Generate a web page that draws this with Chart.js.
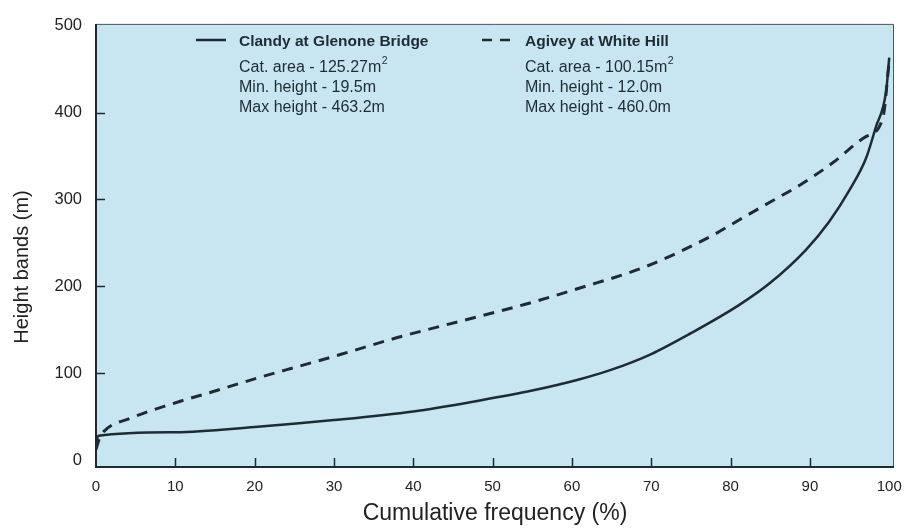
<!DOCTYPE html>
<html>
<head>
<meta charset="utf-8">
<script src="https://cdn.jsdelivr.net/npm/chart.js@4.4.1/dist/chart.umd.min.js"></script>
<style>
  html, body { margin: 0; padding: 0; background: #ffffff; }
  #wrap { width: 907px; height: 531px; position: relative; }
</style>
</head>
<body>
<div id="wrap"><canvas id="c" width="907" height="531"></canvas></div>
<script>
// Hypsometric curves: cumulative frequency (%) against height band (m)
const clandyPct    = [0, 0.3, 10, 20, 30, 40, 48, 55, 61, 65, 70, 75, 81, 85, 89.5, 92.4, 95, 97.1, 98.3, 99.6, 100];
const clandyHeight = [19.5, 28, 32, 38, 46, 56, 68, 80, 93, 104, 122, 146, 178, 204, 242, 274, 311, 348, 383, 424, 463.2];

const agiveyPct    = [0, 0.4, 1, 4.3, 9.7, 15.2, 20.2, 26, 31, 38, 46, 54, 61, 69.4, 77.8, 81, 85, 89, 93, 97, 99.2, 100];
const agiveyHeight = [12.0, 24, 33, 48, 65, 80, 94, 109, 122, 141, 160, 179, 198, 223, 259, 276, 297, 318, 343, 372, 394, 460.0];

const xTicks = [0, 10, 20, 30, 40, 50, 60, 70, 80, 90, 100];
const yTicks = [0, 100, 200, 300, 400, 500];

const legendClandy = ['Clandy at Glenone Bridge', 'Cat. area - 125.27m', 'Min. height - 19.5m', 'Max height - 463.2m'];
const legendAgivey = ['Agivey at White Hill', 'Cat. area - 100.15m', 'Min. height - 12.0m', 'Max height - 460.0m'];
const yTitle = 'Height bands (m)';

const FONT = '"Liberation Sans", Arial, Helvetica, sans-serif';
const INK = '#1f2b33';

const toPoints = (xs, ys) => xs.map((x, i) => ({ x: x, y: ys[i] }));

// plot background, frame, inward tick marks, y title and the keyed legend block
const decor = {
  id: 'decor',
  beforeDraw(chart) {
    const { ctx, chartArea: a } = chart;
    ctx.save();
    ctx.fillStyle = '#c8e5f2';
    ctx.fillRect(a.left, a.top, a.right - a.left, a.bottom - a.top);
    ctx.restore();
  },
  afterDraw(chart) {
    const { ctx, chartArea: a, scales } = chart;
    ctx.save();
    // frame
    ctx.strokeStyle = '#4a585e';
    ctx.lineWidth = 1;
    ctx.beginPath();
    ctx.moveTo(a.left, a.top + 0.5);
    ctx.lineTo(a.right - 0.5, a.top + 0.5);
    ctx.lineTo(a.right - 0.5, a.bottom);
    ctx.stroke();
    ctx.strokeStyle = INK;
    ctx.lineWidth = 2;
    ctx.beginPath();
    ctx.moveTo(a.left, a.top);
    ctx.lineTo(a.left, a.bottom);
    ctx.lineTo(a.right, a.bottom);
    ctx.stroke();
    // inward ticks
    ctx.lineWidth = 1.5;
    ctx.beginPath();
    yTicks.forEach(v => {
      if (v === 0 || v === 500) return;
      const y = Math.round(scales.y.getPixelForValue(v)) + 0.5;
      ctx.moveTo(a.left, y);
      ctx.lineTo(a.left + 9, y);
    });
    xTicks.forEach(v => {
      if (v === 0 || v === 100) return;
      const x = Math.round(scales.x.getPixelForValue(v)) + 0.5;
      ctx.moveTo(x, a.bottom);
      ctx.lineTo(x, a.bottom - 9);
    });
    ctx.stroke();

    // y axis title, set a little below the axis centre
    ctx.save();
    ctx.translate(22, 267);
    ctx.rotate(-Math.PI / 2);
    ctx.fillStyle = '#222';
    ctx.font = '20px ' + FONT;
    ctx.textAlign = 'center';
    ctx.textBaseline = 'middle';
    ctx.fillText(yTitle, 0, 0);
    ctx.restore();

    // legend block
    const drawBlock = (lines, x0, dashed) => {
      const sx = x0 - 43, sy = 40;
      ctx.strokeStyle = INK;
      ctx.lineWidth = 2.5;
      ctx.setLineDash(dashed ? [10, 8] : []);
      ctx.beginPath();
      ctx.moveTo(sx, sy);
      ctx.lineTo(sx + 30, sy);
      ctx.stroke();
      ctx.setLineDash([]);
      ctx.fillStyle = INK;
      ctx.textBaseline = 'alphabetic';
      ctx.textAlign = 'left';
      ctx.font = 'bold 15.5px ' + FONT;
      ctx.fillText(lines[0], x0, 46);
      ctx.font = '16px ' + FONT;
      ctx.fillText(lines[1], x0, 72);
      const w = ctx.measureText(lines[1]).width;
      ctx.font = '10.5px ' + FONT;
      ctx.fillText('2', x0 + w + 0.5, 64);
      ctx.font = '16px ' + FONT;
      ctx.fillText(lines[2], x0, 92);
      ctx.fillText(lines[3], x0, 112);
    };
    drawBlock(legendClandy, 239, false);
    drawBlock(legendAgivey, 525, true);
    ctx.restore();
  }
};

new Chart(document.getElementById('c'), {
  type: 'line',
  data: {
    datasets: [
      {
        label: legendClandy[0],
        data: toPoints(clandyPct, clandyHeight),
        borderColor: INK,
        borderWidth: 2.5,
        pointRadius: 0,
        fill: false,
        cubicInterpolationMode: 'monotone'
      },
      {
        label: legendAgivey[0],
        data: toPoints(agiveyPct, agiveyHeight),
        borderColor: INK,
        borderWidth: 3,
        borderDash: [11, 8],
        pointRadius: 0,
        fill: false,
        cubicInterpolationMode: 'monotone'
      }
    ]
  },
  options: {
    responsive: false,
    animation: false,
    layout: { padding: { top: 18, right: 13, left: 0, bottom: 0 } },
    plugins: { legend: { display: false }, tooltip: { enabled: false } },
    scales: {
      x: {
        type: 'linear',
        min: 0,
        max: 100.6,
        grid: { display: false, drawTicks: false },
        border: { display: false },
        afterBuildTicks: s => { s.ticks = xTicks.map(v => ({ value: v })); },
        afterFit: s => { s.height = 64; s.paddingRight = 0; s.paddingLeft = 0; },
        ticks: { color: '#222', padding: 11, maxRotation: 0, font: { family: FONT, size: 15 } },
        title: { display: true, text: 'Cumulative frequency (%)', color: '#222', padding: { top: 2 }, font: { family: FONT, size: 23 } }
      },
      y: {
        type: 'linear',
        min: -8,
        max: 502,
        grid: { display: false, drawTicks: false },
        border: { display: false },
        afterBuildTicks: s => { s.ticks = yTicks.map(v => ({ value: v })); },
        afterFit: s => { s.width = 96; },
        ticks: { color: '#222', padding: 14, font: { family: FONT, size: 16.5 } },
        title: { display: false }
      }
    }
  },
  plugins: [decor]
});
</script>
</body>
</html>
